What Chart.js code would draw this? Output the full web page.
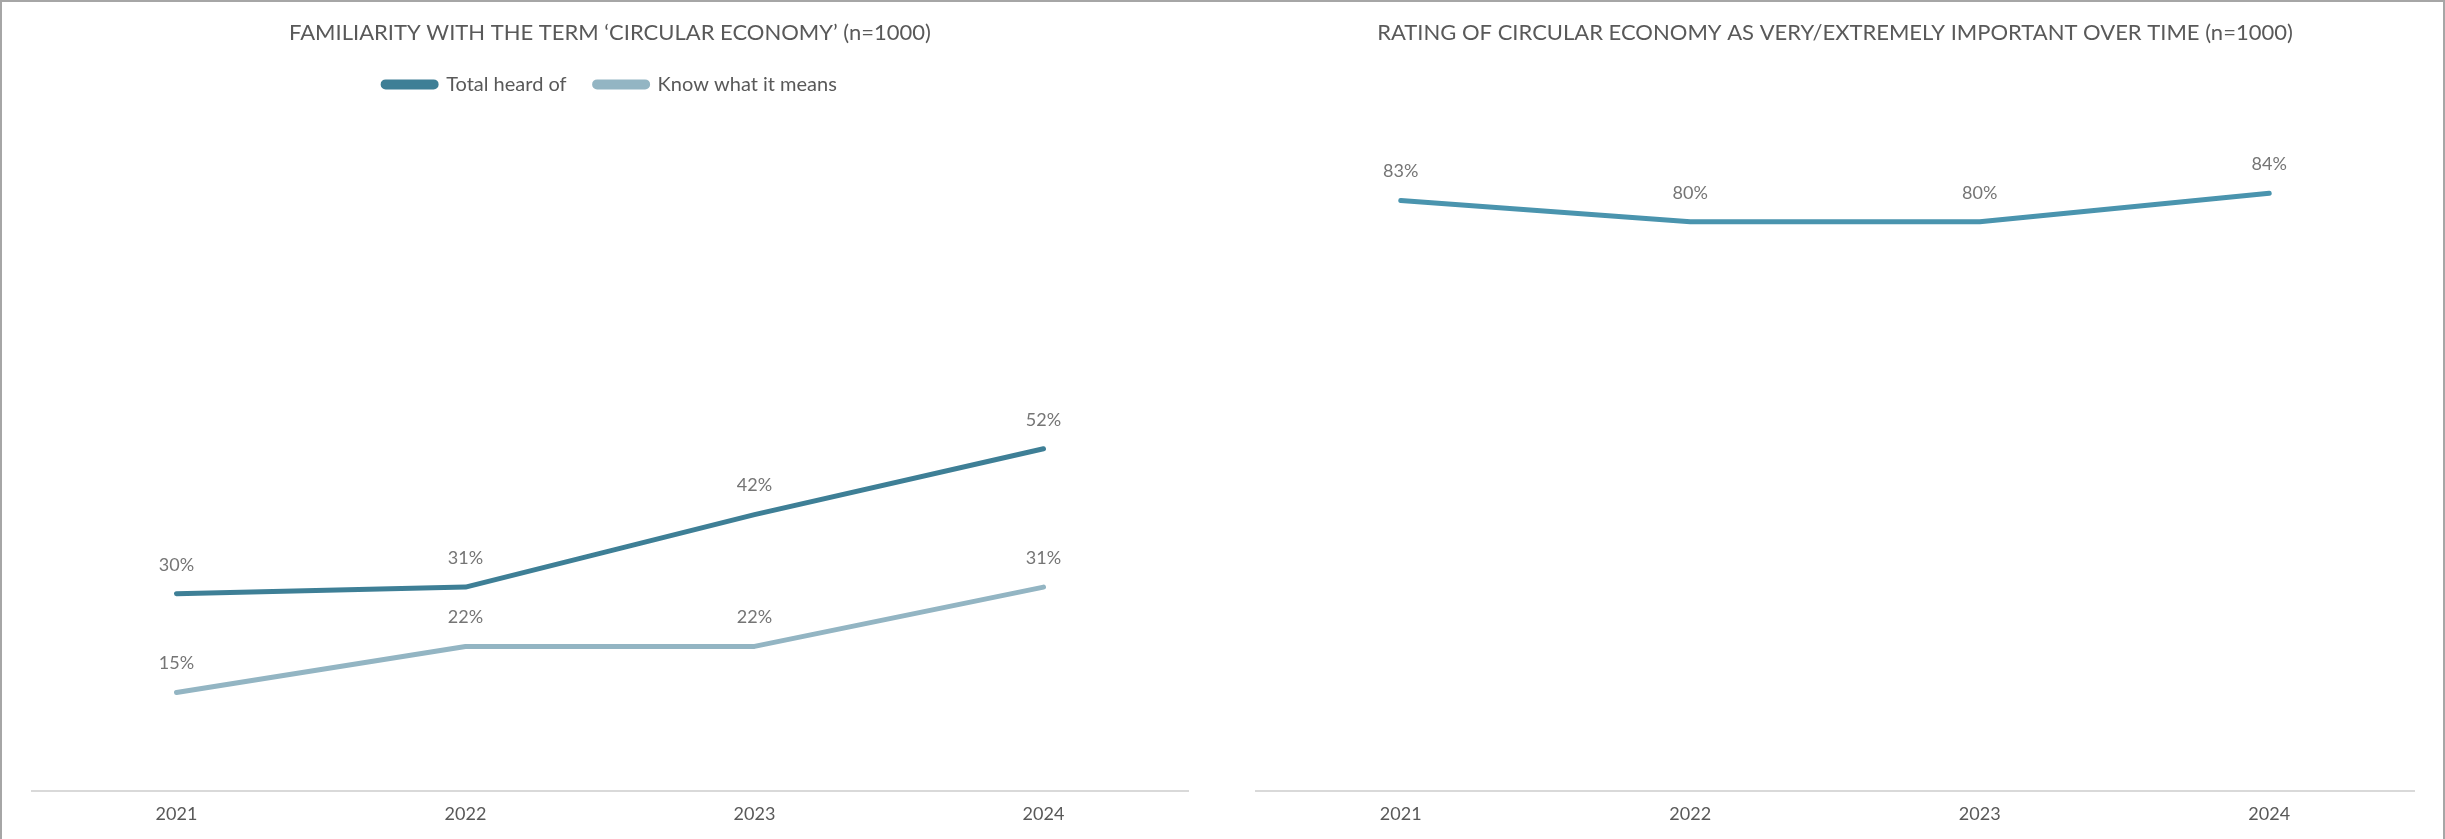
<!DOCTYPE html>
<html>
<head>
<meta charset="utf-8">
<script src="https://cdn.jsdelivr.net/npm/chart.js@4/dist/chart.umd.min.js"></script>
<style>
html,body{margin:0;padding:0;background:#fff}
#frame{position:absolute;left:0;top:0;width:2445px;height:839px;box-sizing:border-box;border-top:2px solid #a6a6a6;border-left:2px solid #a6a6a6;border-right:2px solid #a6a6a6}
.box{position:absolute;top:0;height:839px}
#boxA{left:0;width:1222px}
#boxB{left:1222px;width:1223px}
</style>
</head>
<body>
<div id="frame"></div>
<div class="box" id="boxA"><canvas id="graficoFamiliaridade"></canvas></div>
<div class="box" id="boxB"><canvas id="graficoImportancia"></canvas></div>
<script>
// dados
const anos=['2021','2022','2023','2024']
const totalOuviu=[30,31,42,52]
const sabeSignificado=[15,22,22,31]
const importante=[83,80,80,84]

const tituloA="FAMILIARITY WITH THE TERM \u2018CIRCULAR ECONOMY\u2019 (n=1000)"
const tituloB="RATING OF CIRCULAR ECONOMY AS VERY/EXTREMELY IMPORTANT OVER TIME (n=1000)"

const FONTE='Lato, "Open Sans", sans-serif'
const CINZA='#595959'

// rótulos acima dos pontos (sem plugin externo)
const rotulos={
id:'rotulos',
afterDatasetsDraw(chart){
let ctx=chart.ctx
ctx.save()
ctx.font='18px '+FONTE
ctx.fillStyle='#757575'
ctx.textAlign='center'
ctx.textBaseline='middle'
chart.data.datasets.forEach((ds,i)=>{
let meta=chart.getDatasetMeta(i)
meta.data.forEach((p,j)=>{
ctx.fillText(ds.data[j]+'%',p.x,p.y-29)
})
})
ctx.restore()
}
}

// espaço extra abaixo da legenda
const espacoLegenda={
id:'espacoLegenda',
beforeLayout(chart,args,opts){
let lg=chart.legend
if(!lg||lg._extra)return
let fitOriginal=lg.fit.bind(lg)
lg.fit=function(){
fitOriginal()
this.height+=opts.extra||0
}
lg._extra=true
}
}

function opcoes(titulo,comLegenda,tituloBaixo){
return{
responsive:true,
maintainAspectRatio:false,
animation:false,
layout:{padding:{left:comLegenda?32:34,right:comLegenda?34:31,top:0,bottom:2}},
plugins:{
title:{
display:true,
text:titulo,
color:CINZA,
font:{family:FONTE,size:22,weight:'normal'},
padding:{top:20,bottom:tituloBaixo}
},
legend:{
display:comLegenda,
labels:{
color:CINZA,
font:{family:FONTE,size:20},
boxWidth:53,
boxHeight:5,
useBorderRadius:true,
borderRadius:2.5,
padding:28
}
},
espacoLegenda:{extra:28},
tooltip:{enabled:false}
},
scales:{
x:{
offset:true,
grid:{display:false,drawTicks:false},
border:{display:true,color:'#d9d9d9',width:2},
ticks:{color:CINZA,font:{family:FONTE,size:18},padding:12}
},
y:{
display:false,
min:0,
max:100
}
}
}
}

function serie(label,data,cor){
return{
label:label,
data:data,
borderColor:cor,
backgroundColor:cor,
borderWidth:5,
borderCapStyle:'round',
borderJoinStyle:'round',
pointRadius:0,
tension:0
}
}

new Chart(document.getElementById('graficoFamiliaridade'),{
type:'line',
data:{
labels:anos,
datasets:[
serie('Total heard of',totalOuviu,'#3e7f96'),
serie('Know what it means',sabeSignificado,'#93b5c3')
]
},
options:opcoes(tituloA,true,0),
plugins:[rotulos,espacoLegenda]
})

new Chart(document.getElementById('graficoImportancia'),{
type:'line',
data:{
labels:anos,
datasets:[
serie('Important',importante,'#4a94ae')
]
},
options:opcoes(tituloB,false,33),
plugins:[rotulos]
})
</script>
</body>
</html>
